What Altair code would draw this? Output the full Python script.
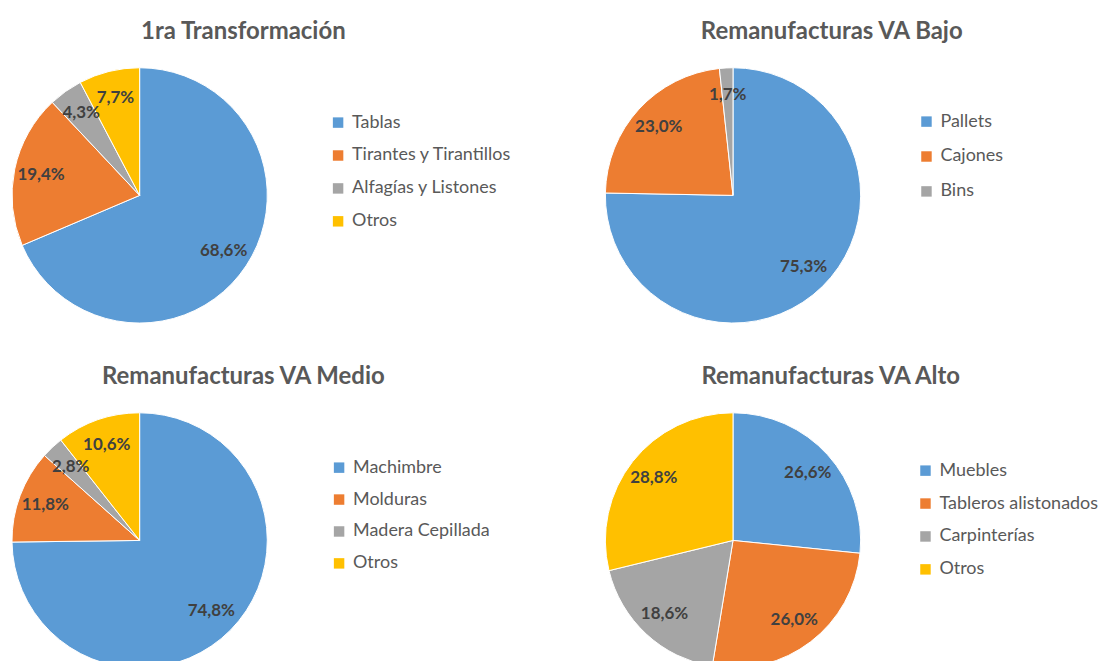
import altair as alt
import pandas as pd

titles = ["1ra Transformación", "Remanufacturas VA Bajo", "Remanufacturas VA Medio", "Remanufacturas VA Alto"]
cats1 = ["Tablas", "Tirantes y Tirantillos", "Alfagías y Listones", "Otros"]
vals1 = [68.6, 19.4, 4.3, 7.7]
cats2 = ["Pallets", "Cajones", "Bins"]
vals2 = [75.3, 23.0, 1.7]
cats3 = ["Machimbre", "Molduras", "Madera Cepillada", "Otros"]
vals3 = [74.8, 11.8, 2.8, 10.6]
cats4 = ["Muebles", "Tableros alistonados", "Carpinterías", "Otros"]
vals4 = [26.6, 26.0, 18.6, 28.8]

colors = ["#5B9BD5", "#ED7D31", "#A5A5A5", "#FFC000"]

FONT = "Lato"
R = 128
SIDE = 258


def panel(title, cats, vals, leg_x, leg_y, row_pad, dx):
    df = pd.DataFrame({
        "cat": cats,
        "val": vals,
        "idx": list(range(len(cats))),
        "lbl": [f"{v:.1f}%".replace(".", ",") for v in vals],
    })
    base = alt.Chart(df)
    arc = base.mark_arc(outerRadius=R, stroke="white", strokeWidth=1).encode(
        theta=alt.Theta("val:Q", stack=True),
        color=alt.Color(
            "cat:N",
            sort=cats,
            scale=alt.Scale(domain=cats, range=colors[: len(cats)]),
            legend=alt.Legend(
                title=None,
                orient="none",
                legendX=leg_x,
                legendY=leg_y,
                symbolType="square",
                symbolSize=110,
                symbolStrokeWidth=0,
                labelFont=FONT,
                labelFontSize=18,
                labelColor="#595959",
                labelLimit=400,
                labelOffset=5,
                rowPadding=row_pad,
            ),
        ),
        order=alt.Order("idx:Q"),
    )
    txt = base.mark_text(
        radius=101, font=FONT, fontSize=17, fontWeight="bold", color="#404040"
    ).encode(
        theta=alt.Theta("val:Q", stack=True),
        text="lbl:N",
        order=alt.Order("idx:Q"),
    )
    return alt.layer(arc, txt).properties(
        width=SIDE,
        height=SIDE,
        title=alt.TitleParams(
            text=title,
            font=FONT,
            fontSize=24,
            fontWeight="bold",
            color="#595959",
            anchor="middle",
            dx=dx,
            offset=3,
            baseline="alphabetic",
        ),
    )


p1 = panel(titles[0], cats1, vals1, 319, 47, 15, 104)
p2 = panel(titles[1], cats2, vals2, 314, 46, 17, 99)
p3 = panel(titles[2], cats3, vals3, 320, 47, 14, 104)
p4 = panel(titles[3], cats4, vals4, 313, 50, 15, 98)

chart = (
    alt.concat(p1, p2, p3, p4, columns=2, spacing={"row": 88, "column": 337}, bounds="flush")
    .resolve_scale(color="independent")
    .properties(padding={"left": 2, "top": 11, "right": 0, "bottom": 0})
    .configure_view(stroke=None)
)

chart.save("out.html", embed_options={"renderer": "svg", "actions": False})
